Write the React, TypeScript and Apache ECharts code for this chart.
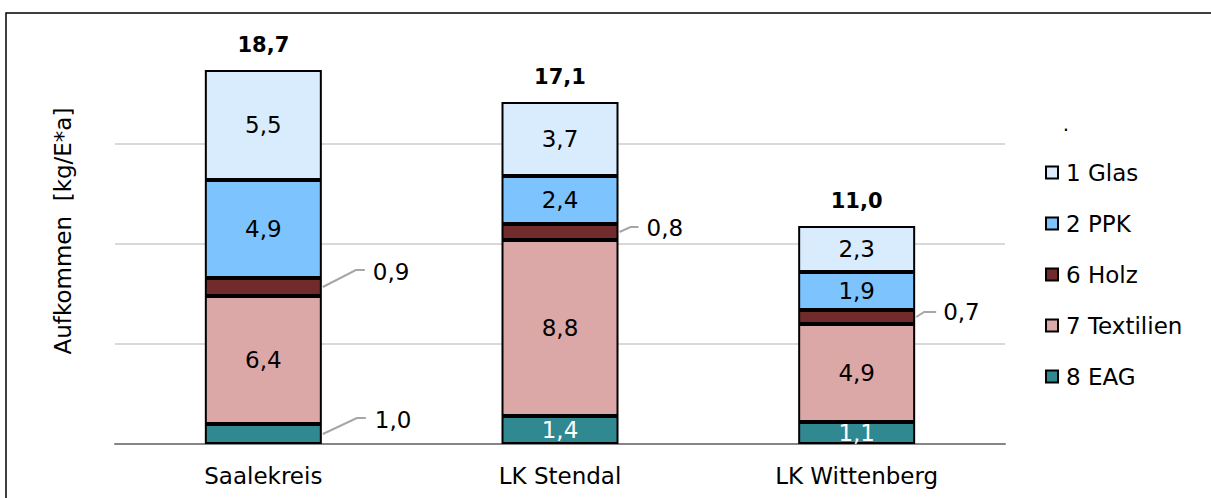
import React, { useEffect, useRef } from "react";
import * as echarts from "echarts";

const categories = ["Saalekreis", "LK Stendal", "LK Wittenberg"];
const eag = [1.0, 1.4, 1.1];
const textilien = [6.4, 8.8, 4.9];
const holz = [0.9, 0.8, 0.7];
const ppk = [4.9, 2.4, 1.9];
const glas = [5.5, 3.7, 2.3];
const totals = [18.7, 17.1, 11.0];
const zeros = [0, 0, 0];

const FONT = "DejaVu Sans";
const fmt = (v: number) => v.toFixed(1).replace(".", ",");

export default function App() {
  const ref = useRef<HTMLDivElement>(null);
  useEffect(() => {
    if (!ref.current) return;
    const chart = echarts.init(ref.current, null, { renderer: "svg" });
    const BW = 117;
    const inside = (color = "#000") => ({
      show: true,
      position: "inside" as const,
      color,
      fontSize: 23,
      fontFamily: FONT,
      formatter: (p: any) => fmt(p.value),
    });
    const outside = (off: number[]) => ({
      show: true,
      position: "right" as const,
      distance: 0,
      offset: off,
      color: "#000",
      fontSize: 23,
      fontFamily: FONT,
      formatter: (p: any) => fmt(p.value),
    });
    const holzOffsets = [[51, -15], [28, -4], [28, -5]];
    const border = { borderColor: "#000", borderWidth: 2 };
    chart.setOption({
      animation: false,
      backgroundColor: "#fff",
      grid: { left: 115, right: 206, top: 44, bottom: 54 },
      xAxis: {
        type: "category",
        data: categories,
        axisLine: { lineStyle: { color: "#868686", width: 2 } },
        axisTick: { show: false },
        axisLabel: { color: "#000", fontSize: 23, fontFamily: FONT, margin: 20 },
      },
      yAxis: {
        type: "value",
        min: 0,
        max: 20,
        interval: 5,
        axisLine: { show: false },
        axisTick: { show: false },
        axisLabel: { show: false },
        splitLine: {
          lineStyle: {
            color: ["#d9d9d9", "#d9d9d9", "#d9d9d9", "#d9d9d9", "rgba(0,0,0,0)"],
            width: 2,
          },
        },
      },
      legend: {
        orient: "vertical",
        left: 1040,
        top: 156,
        itemGap: 28,
        itemWidth: 12,
        itemHeight: 12,
        icon: "rect",
        data: ["1 Glas", "2 PPK", "6 Holz", "7 Textilien", "8 EAG"],
        itemStyle: { borderColor: "#000", borderWidth: 2 },
        textStyle: { color: "#000", fontSize: 23, fontFamily: FONT, padding: [0, 0, 0, 3] },
      },
      series: [
        {
          name: "8 EAG",
          type: "bar",
          stack: "s",
          barWidth: BW,
          itemStyle: { color: "#308890", ...border },
          data: eag.map((v, i) =>
            i === 0 ? { value: v, label: outside([53, -14]) } : { value: v, label: inside("#fff") }
          ),
        },
        {
          name: "7 Textilien",
          type: "bar",
          stack: "s",
          barWidth: BW,
          itemStyle: { color: "#dba7a7", ...border },
          label: inside(),
          data: textilien,
        },
        {
          name: "6 Holz",
          type: "bar",
          stack: "s",
          barWidth: BW,
          itemStyle: { color: "#722b2c", ...border },
          data: holz.map((v, i) => ({ value: v, label: outside(holzOffsets[i]) })),
        },
        {
          name: "2 PPK",
          type: "bar",
          stack: "s",
          barWidth: BW,
          itemStyle: { color: "#7dc3fd", ...border },
          label: inside(),
          data: ppk,
        },
        {
          name: "1 Glas",
          type: "bar",
          stack: "s",
          barWidth: BW,
          itemStyle: { color: "#d9ecfd", ...border },
          label: inside(),
          data: glas,
        },
        {
          name: "Summe",
          type: "bar",
          stack: "s",
          barWidth: BW,
          itemStyle: { color: "rgba(0,0,0,0)", borderWidth: 0 },
          label: {
            show: true,
            position: "top",
            distance: 15,
            color: "#000",
            fontSize: 21,
            fontWeight: "bold",
            fontFamily: FONT,
            formatter: (p: any) => fmt(totals[p.dataIndex]),
          },
          data: zeros,
        },
      ],
    });

    // leader lines computed from the chart's own scales
    const px = (i: number, v: number) => chart.convertToPixel({ xAxisIndex: 0, yAxisIndex: 0 }, [i, v]) as number[];
    const leaders: any[] = [];
    const addLeader = (i: number, lo: number, hi: number, kdx: number, kdy: number, hlen: number) => {
      const p = px(i, (lo + hi) / 2);
      const x0 = p[0] + BW / 2 + 1;
      const y0 = p[1];
      leaders.push({
        type: "polyline",
        shape: { points: [[x0, y0], [x0 + kdx, y0 + kdy], [x0 + kdx + hlen, y0 + kdy]] },
        style: { stroke: "#a6a6a6", lineWidth: 2, fill: null },
        z: 10,
      });
    };
    addLeader(0, 0, eag[0], 34, -16, 9);
    const holzLeader = [[33, -17, 9], [11, -5, 8], [8, -5, 12]];
    holz.forEach((v, i) => {
      const lo = eag[i] + textilien[i];
      addLeader(i, lo, lo + v, holzLeader[i][0], holzLeader[i][1], holzLeader[i][2]);
    });

    chart.setOption({
      graphic: [
        {
          type: "rect",
          shape: { x: 6, y: 13, width: 1240, height: 520 },
          style: { stroke: "#000", lineWidth: 1.5, fill: null },
          silent: true,
        },
        {
          type: "text",
          x: 63,
          y: 231,
          rotation: Math.PI / 2,
          style: {
            text: "Aufkommen  [kg/E*a]",
            fontSize: 23,
            fontFamily: FONT,
            fill: "#000",
            align: "center",
            verticalAlign: "middle",
          },
        },
        {
          type: "text",
          x: 1066,
          y: 134,
          style: { text: ".", fontSize: 20, fontFamily: FONT, fill: "#000", align: "center", verticalAlign: "bottom" },
        },
        ...leaders,
      ],
    });
    return () => chart.dispose();
  }, []);
  return (
    <div
      ref={ref}
      style={{ position: "fixed", left: 0, top: 0, width: 1211, height: 498, background: "#fff" }}
    />
  );
}
